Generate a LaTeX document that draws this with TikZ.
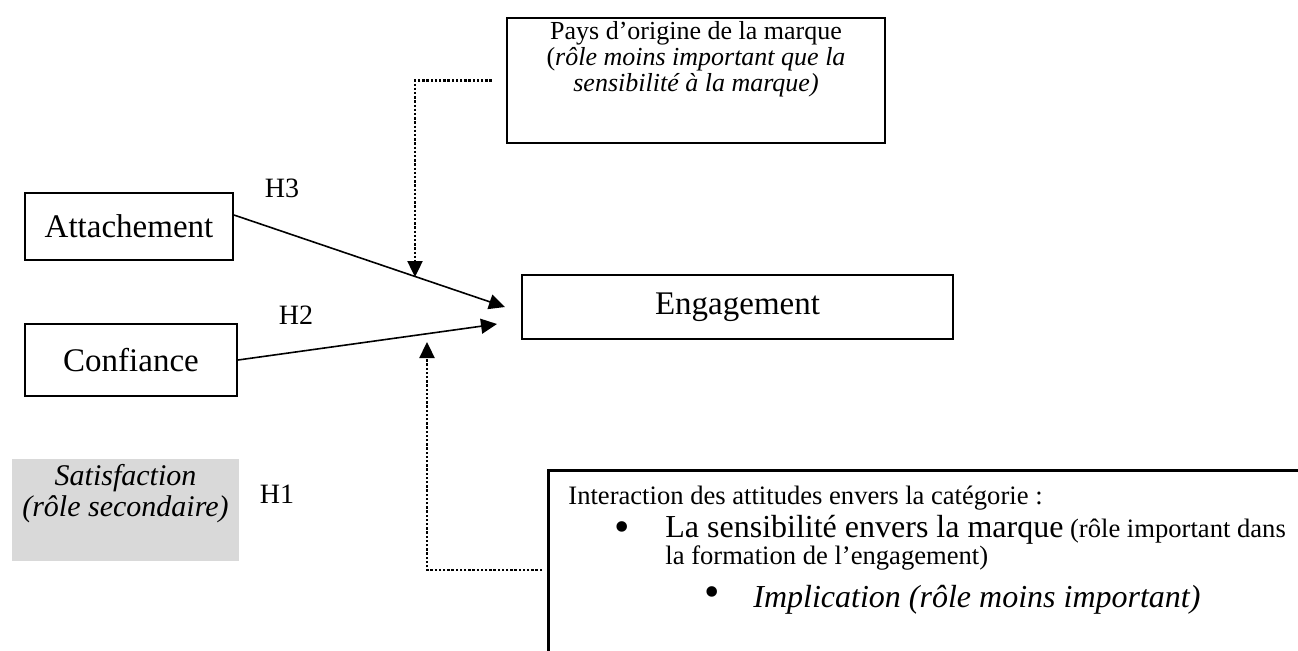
\documentclass[tikz,border=0pt]{standalone}
\usepackage{fontspec}
\setmainfont{Liberation Serif}
\usetikzlibrary{arrows.meta}
\definecolor{satgray}{HTML}{D9D9D9}

\begin{document}
\begin{tikzpicture}[
    x=0.5pt, y=-0.5pt,
    varbox/.style={draw, line width=1pt, inner sep=0pt, font=\fontsize{16.5}{19}\selectfont},
    notebox/.style={draw, line width=1.3pt, inner sep=0pt},
    notetxt/.style={anchor=north, inner sep=0pt, align=center},
    hyplbl/.style={font=\fontsize{14}{16}\selectfont, anchor=base, inner sep=0pt},
    linetxt/.style={anchor=base west, inner sep=0pt, font=\fontsize{13.3}{16}\selectfont},
    bulletlbl/.style={anchor=center, inner sep=0pt, font=\fontsize{22}{22}\selectfont},
    pathlink/.style={line width=0.8pt, -{Triangle[length=8pt,width=7.5pt]}},
    dotlink/.style={line width=1.2pt, dash pattern=on 1.2pt off 0.9pt, -{Triangle[length=8pt,width=7.5pt]}}
  ]
  \useasboundingbox (0,0) rectangle (1298,650);
  \clip (0,0) rectangle (1298,650);

  \node[varbox, minimum width=104pt, minimum height=33.5pt] (att) at (129,226.5) {Attachement};
  \node[varbox, minimum width=106pt, minimum height=36pt] (conf) at (131,360) {Confiance};
  \node[varbox, minimum width=215.5pt, minimum height=32pt] (eng) at (737.5,307) {Engagement};

  \node[fill=satgray, minimum width=113.5pt, minimum height=51pt, inner sep=0pt] (sat) at (125.5,510) {};
  \node[notetxt, font=\fontsize{15}{15.5}\selectfont\itshape] (sattxt) at (125.5,464)
    {Satisfaction\\(rôle secondaire)};

  \node[hyplbl] (h3) at (282,197) {H3};
  \node[hyplbl] (h2) at (296,324) {H2};
  \node[hyplbl] (h1) at (277,503) {H1};

  \node[notebox, line width=1.2pt, minimum width=189pt, minimum height=62.5pt] (orig) at (696,80.5) {};
  \node[notetxt, font=\fontsize{13}{13}\selectfont] (origtxt) at (696,21)
    {Pays d’origine de la marque\\(\textit{rôle moins important que la}\\\textit{sensibilité à la marque)}};

  \node[notebox, anchor=north west, minimum width=400pt, minimum height=125pt] (inter) at (547,469) {};
  \node[linetxt] (ln1) at (568,504) {Interaction des attitudes envers la catégorie :};
  \node[bulletlbl] (bul1) at (622,532) {•};
  \node[linetxt] (ln2) at (665,537)
    {{\fontsize{16}{19}\selectfont La sensibilité envers la marque} (rôle important dans};
  \node[linetxt] (ln3) at (665,564) {la formation de l’engagement)};
  \node[bulletlbl] (bul2) at (712,597) {•};
  \node[linetxt, font=\fontsize{16}{19}\selectfont\itshape] (ln4) at (753,607)
    {Implication (rôle moins important)};

  \coordinate (tipA) at (415,277);
  \coordinate (tipB) at (427,342);

  \draw[pathlink] ([yshift=5.75pt]att.east) -- ([xshift=-8pt]eng.west);
  \draw[pathlink] (conf.east) -- ([shift={(-12pt,-8.5pt)}]eng.west);
  \draw[dotlink] ([xshift=-7pt]orig.west) -| (tipA);
  \draw[dotlink] ([shift={(-2.5pt,-50.5pt)}]inter.north west) -| (tipB);
\end{tikzpicture}
\end{document}
